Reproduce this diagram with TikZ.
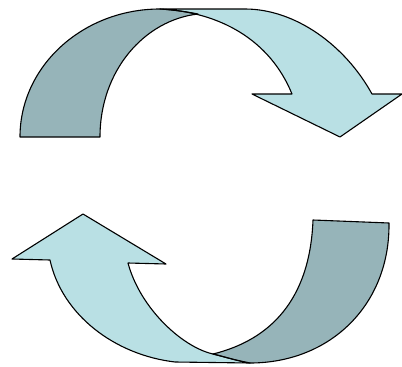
\documentclass[tikz,border=0pt]{standalone}
\usepackage{xcolor}
\usepackage{tikz}
\definecolor{frontBlue}{RGB}{185, 224, 228}
\definecolor{backTeal}{RGB}{150, 180, 185}
\definecolor{edgeBlack}{RGB}{0, 0, 0}

\begin{document}
\begin{tikzpicture}[
    x=1pt, y=-1pt,
    frontband/.style={fill=frontBlue},
    backband/.style={fill=backTeal},
    outline/.style={draw=edgeBlack, line width=1.1pt, line join=round}
  ]
    \useasboundingbox (0,0) rectangle (402,367);

    % upper arrow
    \def\upperfront{(160,9) -- (245,9) .. controls (295,9) and (345,45) .. (372,94) -- (402,94) -- (340,137) -- (252,94) -- (292,94) .. controls (270,40) and (220,12) .. (160,9) -- cycle}
    \def\upperback{(20,137) .. controls (20,66) and (83,9) .. (160,9) .. controls (175,10) and (188,12) .. (198,14) .. controls (145,20) and (100,70) .. (100,137) -- cycle}

    % lower arrow
    \def\lowerfront{(50,260) -- (12,259) -- (83,214) -- (166,264) -- (128,263) .. controls (140,308) and (182,347) .. (213,354) .. controls (225,357) and (238,361) .. (250,363) -- (175,362) .. controls (115,355) and (62,315) .. (50,260) -- cycle}
    \def\lowerback{(313,220) -- (389,223) .. controls (390,305) and (330,363) .. (250,363) .. controls (238,361) and (225,357) .. (213,354) .. controls (270,340) and (310,300) .. (313,220) -- cycle}

    \path[frontband] \upperfront;
    \path[backband] \upperback;
    \path[frontband] \lowerfront;
    \path[backband] \lowerback;

    \path[outline] \upperfront;
    \path[outline] \upperback;
    \path[outline] \lowerfront;
    \path[outline] \lowerback;
  \end{tikzpicture}
\end{document}
